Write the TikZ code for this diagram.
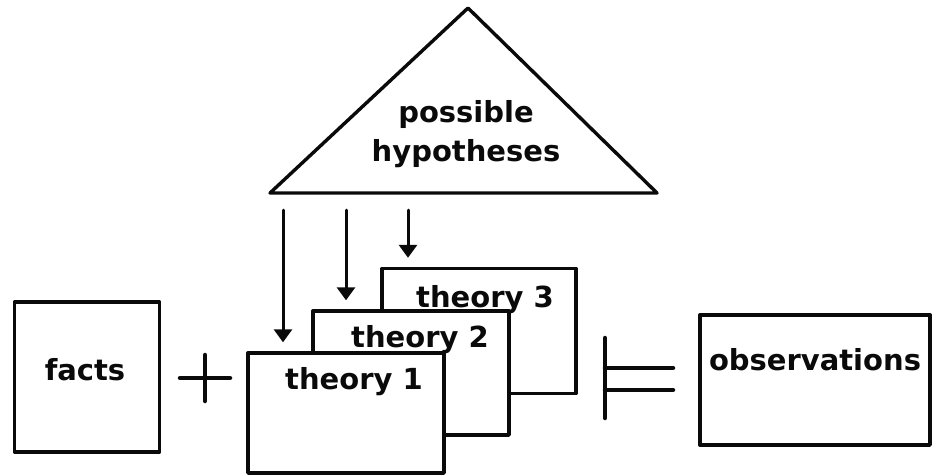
\documentclass[tikz,border=0pt]{standalone}
\usepackage{fontspec}
\setmainfont{DejaVu Sans}
\usetikzlibrary{arrows.meta,positioning}
\definecolor{inkc}{RGB}{10,10,10}

\begin{document}
\begin{tikzpicture}[x=1pt, y=-1pt, >={Triangle[width=18pt,length=13pt]},
    line cap=round, line join=round,
    font=\fontsize{29}{39}\selectfont\bfseries,
    card/.style={draw=inkc, line width=3.4pt, fill=white, inner sep=0pt},
    lbl/.style={text=inkc, inner sep=0pt},
    feed/.style={->, draw=inkc, fill=inkc, line width=3pt, shorten >=9pt}]
  \useasboundingbox (0,0) rectangle (933,475);

  % hypothesis space
  \coordinate (apex) at (468,8);
  \coordinate (hl) at (270,193);
  \coordinate (hr) at (657,193);
  \draw[inkc, line width=3.4pt] (apex) -- (hl) -- (hr) -- cycle;
  \node[lbl, align=center] (hyp) at (466,134) {possible\\hypotheses};

  % stack of theories, back to front
  \node[card, minimum width=194pt, minimum height=125pt] (t3) at (479,331) {};
  \node[lbl] (t3l) at (485,300) {theory 3};
  \node[card, minimum width=196pt, minimum height=124pt] (t2) at (411,373) {};
  \node[lbl] (t2l) at (420,340) {theory 2};
  \node[card, minimum width=196pt, minimum height=120pt] (t1) at (346,413) {};
  \node[lbl] (t1l) at (354,382) {theory 1};

  % picks from the triangle
  \coordinate (h1) at (283,210);
  \coordinate (h2) at (346,210);
  \coordinate (h3) at (408,210);
  \draw[feed] (h1) -- (h1 |- t1.north);
  \draw[feed] (h2) -- (h2 |- t2.north);
  \draw[feed] (h3) -- (h3 |- t3.north);

  % facts + theory |= observations
  \node[card, minimum width=145pt, minimum height=150pt] (facts) at (87,377) {};
  \node[lbl] (factsl) at (85,370) {facts};
  \draw[inkc, line width=4.5pt] (180,378) -- (230,378) (205,355) -- (205,401);
  \draw[inkc, line width=4.5pt] (605,338) -- (605,418)
    (605,368) -- (673,368) (605,390) -- (673,390);
  \node[card, minimum width=230pt, minimum height=130pt] (obs) at (815,380) {};
  \node[lbl] (obsl) at (815,360) {observations};
\end{tikzpicture}
\end{document}
